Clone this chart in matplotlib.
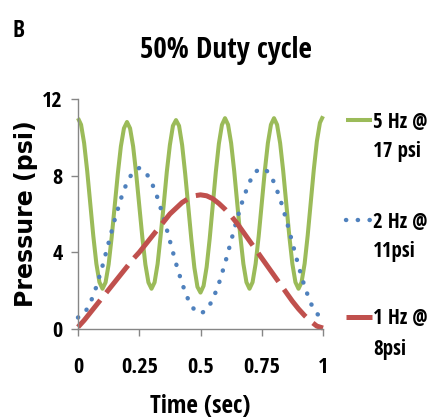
import matplotlib
matplotlib.use("Agg")
import matplotlib.pyplot as plt
from matplotlib import font_manager
from matplotlib.lines import Line2D

# time axes (sec)
t_5hz = [0.0, 0.0125, 0.025, 0.0375, 0.05, 0.0625, 0.075, 0.0875,
         0.1, 0.1125, 0.125, 0.1375, 0.15, 0.1625, 0.175, 0.1875,
         0.2, 0.2125, 0.225, 0.2375, 0.25, 0.2625, 0.275, 0.2875,
         0.3, 0.3125, 0.325, 0.3375, 0.35, 0.3625, 0.375, 0.3875,
         0.4, 0.4125, 0.425, 0.4375, 0.45, 0.4625, 0.475, 0.4875,
         0.5, 0.5125, 0.525, 0.5375, 0.55, 0.5625, 0.575, 0.5875,
         0.6, 0.6125, 0.625, 0.6375, 0.65, 0.6625, 0.675, 0.6875,
         0.7, 0.7125, 0.725, 0.7375, 0.75, 0.7625, 0.775, 0.7875,
         0.8, 0.8125, 0.825, 0.8375, 0.85, 0.8625, 0.875, 0.8875,
         0.9, 0.9125, 0.925, 0.9375, 0.95, 0.9625, 0.975, 0.9875, 1.0]
t_slow = [0.0, 0.025, 0.05, 0.075, 0.1, 0.125, 0.15, 0.175, 0.2, 0.225,
          0.25, 0.275, 0.3, 0.325, 0.35, 0.375, 0.4, 0.425, 0.45, 0.475,
          0.5, 0.525, 0.55, 0.575, 0.6, 0.625, 0.65, 0.675, 0.7, 0.725,
          0.75, 0.775, 0.8, 0.825, 0.85, 0.875, 0.9, 0.925, 0.95, 0.975, 1.0]

# pressure (psi)
p_5hz = [11.0, 10.66, 9.7, 8.25, 6.55, 4.85, 3.4, 2.44,
         2.1, 2.43, 3.37, 4.8, 6.45, 8.1, 9.53, 10.47,
         10.8, 10.47, 9.53, 8.1, 6.45, 4.8, 3.37, 2.43,
         2.1, 2.43, 3.4, 4.9, 6.5, 8.2, 9.6, 10.6,
         10.9, 10.6, 9.6, 8.1, 6.4, 4.7, 3.2, 2.2,
         1.9, 2.25, 3.23, 4.71, 6.45, 8.19, 9.67, 10.65,
         11.0, 10.66, 9.7, 8.25, 6.55, 4.85, 3.4, 2.44,
         2.1, 2.44, 3.4, 4.85, 6.55, 8.25, 9.7, 10.66,
         11.0, 10.66, 9.7, 8.25, 6.55, 4.85, 3.4, 2.44,
         2.1, 2.44, 3.41, 4.88, 6.6, 8.32, 9.79, 10.76, 11.1]
p_2hz = [0.6, 0.79, 1.34, 2.21, 3.29, 4.5, 5.71, 6.79, 7.66, 8.21,
         8.4, 8.21, 7.67, 6.83, 5.78, 4.6, 3.42, 2.37, 1.53, 0.99,
         0.8, 0.99, 1.53, 2.37, 3.42, 4.6, 5.78, 6.83, 7.67, 8.21,
         8.4, 8.21, 7.66, 6.79, 5.71, 4.5, 3.29, 2.21, 1.34, 0.79, 0.6]
p_1hz = [0.1, 0.45, 0.85, 1.25, 1.65, 2.05, 2.45, 2.85, 3.25, 3.65,
         4.0, 4.4, 4.8, 5.2, 5.6, 6.0, 6.3, 6.6, 6.8, 6.95,
         7.0, 6.95, 6.8, 6.55, 6.25, 5.9, 5.5, 5.05, 4.6, 4.15,
         3.7, 3.25, 2.8, 2.35, 1.9, 1.45, 1.05, 0.7, 0.4, 0.15, 0.05]

labels_top = ['5 Hz @', '2 Hz @', '1 Hz @']
labels_bottom = ['17 psi', '11psi', '8psi']
x_ticks = [0, 0.25, 0.5, 0.75, 1]
x_ticklabels = ['0', '0.25', '0.5', '0.75', '1']
y_ticks = [0, 4, 8, 12]

GREEN = '#9BBB59'
BLUE = '#4F81BD'
RED = '#C0504D'

# line styles: solid / round dots / long dashes (Excel look)
styles = [
    dict(color=GREEN, lw=2.9, linestyle='-', solid_capstyle='butt'),
    dict(color=BLUE, lw=3.2, linestyle=(0, (0.05, 2.6)), dash_capstyle='round'),
    dict(color=RED, lw=3.6, linestyle=(0, (7.0, 1.9)), dash_capstyle='butt'),
]

# Calibri-like narrow font if there is one
names = {f.name for f in font_manager.fontManager.ttflist}
narrow = next((n for n in ['Liberation Sans Narrow', 'Open Sans Condensed', 'Roboto Condensed']
               if n in names), 'Open Sans')
plt.rcParams['font.family'] = [narrow, 'DejaVu Sans']
plt.rcParams['font.weight'] = 'bold'

W, H = 432, 420
fig = plt.figure(figsize=(W / 100, H / 100), dpi=100)
ax = fig.add_axes([78 / W, 1 - 329 / H, 245 / W, 230 / H])

ax.plot(t_5hz, p_5hz, clip_on=False, **styles[0])
ax.plot(t_slow, p_2hz, clip_on=False, **styles[1])
ax.plot(t_slow, p_1hz, clip_on=False, **styles[2])

ax.set_xlim(0, 1)
ax.set_ylim(0, 12)
ax.set_xticks(x_ticks)
ax.set_xticklabels(x_ticklabels)
ax.set_yticks(y_ticks)
for side in ['top', 'right']:
    ax.spines[side].set_visible(False)
for side in ['left', 'bottom']:
    ax.spines[side].set_color('#868686')
    ax.spines[side].set_linewidth(1.0)
ax.tick_params(axis='both', direction='out', length=5, width=1.0, color='#868686',
               labelsize=16)
ax.tick_params(axis='x', pad=15)
ax.tick_params(axis='y', pad=6)

ax.set_xlabel('Time (sec)', fontsize=18, fontweight='bold', labelpad=12)
ax.set_ylabel('Pressure (psi)', fontsize=17, fontweight='bold',
              family=['DejaVu Sans'], labelpad=3)

fig.text(226 / W, 1 - 58 / H, '50% Duty cycle', ha='center', va='baseline',
         fontsize=21, fontweight='bold')
fig.text(13 / W, 1 - 37 / H, 'B', ha='left', va='baseline', fontsize=17, fontweight='bold')

# legend, handle beside the first line of each label
for st, y, top, bottom in zip(styles, [120, 220, 317], labels_top, labels_bottom):
    h = Line2D([346 / W, 372 / W], [1 - y / H, 1 - y / H], transform=fig.transFigure, **st)
    fig.add_artist(h)
    fig.text(373 / W, 1 - (y + 2) / H, top, ha='left', va='center', fontsize=15)
    fig.text(373 / W, 1 - (y + 32) / H, bottom, ha='left', va='center', fontsize=15)

fig.savefig('out.png', dpi=100)
